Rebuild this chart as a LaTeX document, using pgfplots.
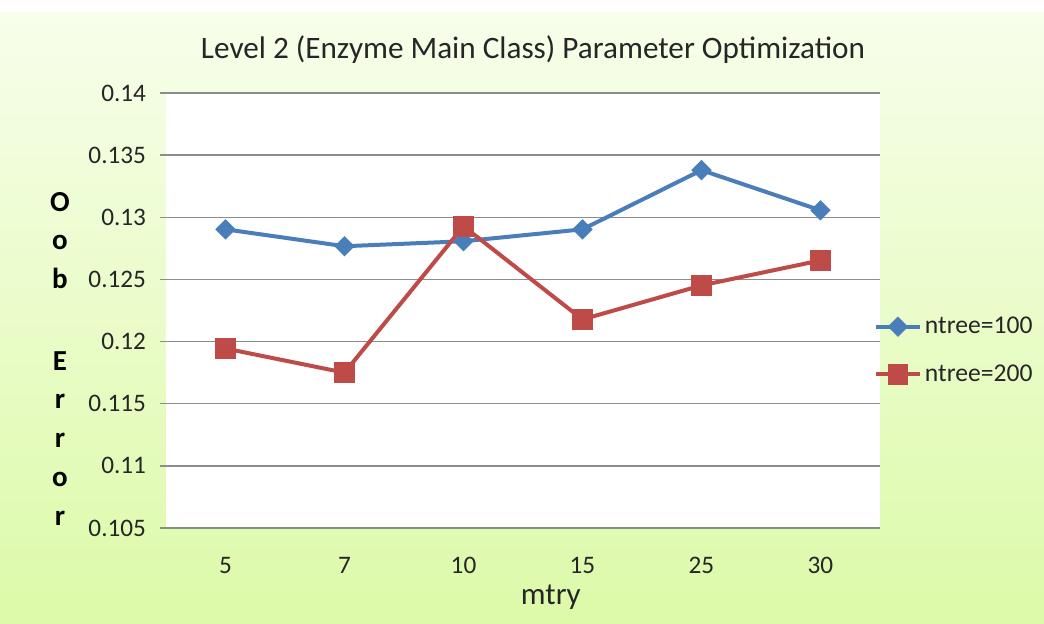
\documentclass[border=0pt]{standalone}
\usepackage{fontspec}
\setmainfont{Carlito}
\usepackage{pgfplots}
\pgfplotsset{compat=1.18}
\definecolor{bluel}{HTML}{4A7EBB}
\definecolor{redl}{HTML}{BE4B48}
\definecolor{gridc}{HTML}{8C8C8C}
\definecolor{axc}{HTML}{7F917A}
\definecolor{txt}{HTML}{262626}
\begin{document}
\begin{tikzpicture}
\fill[white] (0,0) rectangle (522pt,312pt);
\shade[top color={rgb,255:red,247;green,254;blue,234}, bottom color={rgb,255:red,220;green,250;blue,168}] (0,0) rectangle (522pt,305.5pt);
\useasboundingbox (0,0) rectangle (522pt,312pt);
\node[font=\fontsize{15.6}{18}\selectfont, text=txt] at (266.5pt,287pt) {Level 2 (Enzyme Main Class) Parameter Optimization};
\node[align=center, font=\bfseries\fontsize{14.5}{19.5}\selectfont, text=black] at (30pt,132.5pt) {O\\o\\b\\[21pt]E\\r\\r\\o\\r};
\begin{axis}[
  at={(83pt,48pt)}, anchor=south west,
  scale only axis, width=357pt, height=217.5pt,
  xmin=-0.5, xmax=5.5, ymin=0.105, ymax=0.14,
  xtick={0,1,2,3,4,5}, xticklabels={5,7,10,15,25,30},
  ytick={0.105,0.11,0.115,0.12,0.125,0.13,0.135,0.14},
  yticklabels={0.105,0.11,0.115,0.12,0.125,0.13,0.135,0.14},
  axis background/.style={fill=white},
  axis x line=bottom, axis y line=left,
  axis line style={-},
  y axis line style={draw=none},
  x axis line style={axc, line width=0.8pt},
  ymajorgrids, grid style={gridc, line width=0.7pt},
  tick align=outside, major tick length=3pt,
  xtick style={draw=none},
  ytick style={gridc, line width=0.7pt},
  /pgf/number format/assume math mode=true,
  ticklabel style={font=\fontsize{12.6}{14}\selectfont, text=txt},
  yticklabel style={xshift=-3.5pt},
  xticklabel style={yshift=-8pt},
  xlabel={mtry},
  xlabel style={at={(axis description cs:0.539,0)}, anchor=center, yshift=-34.5pt, font=\fontsize{15.5}{18}\selectfont, text=txt},
  legend style={draw=none, fill=none, inner sep=0pt, row sep=11pt,
    font=\fontsize{12.8}{14}\selectfont, text=txt,
    at={(axis description cs:0.991,0.408)}, anchor=west,
    nodes={inner sep=1.5pt}},
  legend cell align=left,
  legend image code/.code={\draw[#1, mark repeat=2, mark phase=2] plot coordinates {(0pt,0pt) (11pt,0pt) (22pt,0pt)};},
]
\addplot[color=bluel, line width=2pt, mark=square*, mark size=2.6pt, mark options={solid, rotate=45, fill=bluel}]
  coordinates {(0,0.12903) (1,0.12767) (2,0.12807) (3,0.12903) (4,0.13379) (5,0.13056)};
\addlegendentry{ntree=100}
\addplot[color=redl, line width=2pt, mark=square*, mark size=4.2pt, mark options={solid, fill=redl}]
  coordinates {(0,0.11944) (1,0.1175) (2,0.12928) (3,0.12178) (4,0.12452) (5,0.12653)};
\addlegendentry{ntree=200}
\end{axis}
\end{tikzpicture}
\end{document}
